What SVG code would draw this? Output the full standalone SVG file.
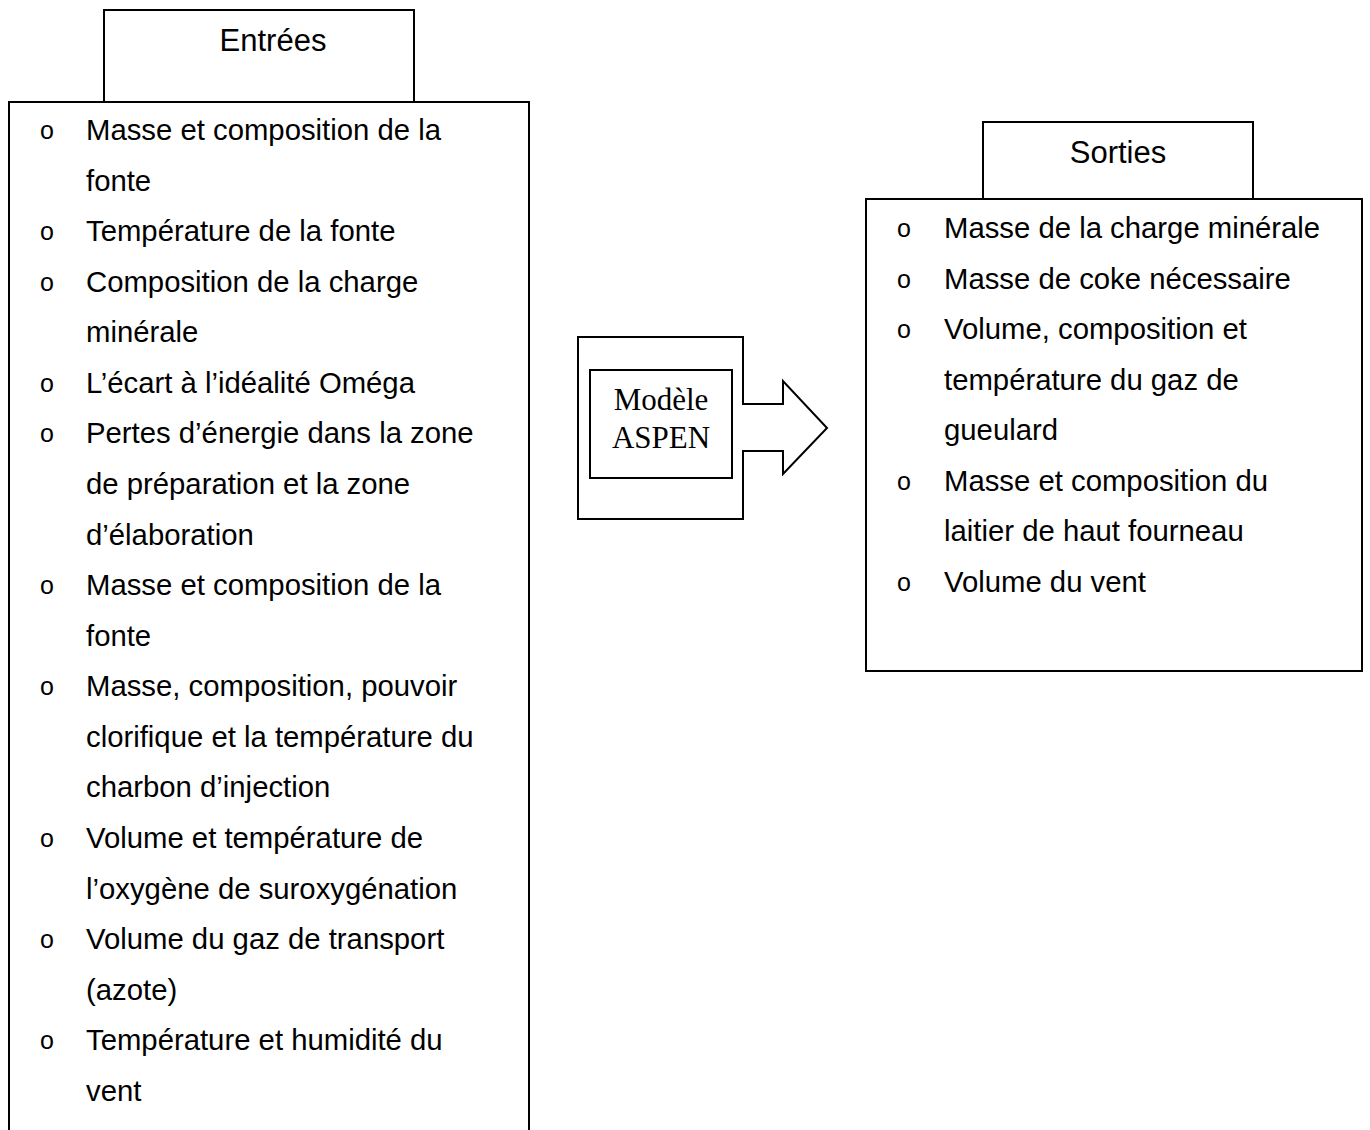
<svg xmlns="http://www.w3.org/2000/svg" width="1370" height="1130" viewBox="0 0 1370 1130">
<style>
.box{fill:none;stroke:#000;stroke-width:2}
.t{font-family:"Liberation Sans",Arial,sans-serif;font-size:29.3px;fill:#000}
.h{font-family:"Liberation Sans",Arial,sans-serif;font-size:31px;fill:#000;text-anchor:middle}
.b{font-family:"Liberation Sans",Arial,sans-serif;font-size:25px;fill:#000}
.s{font-family:"Liberation Serif","Times New Roman",serif;font-size:31px;fill:#000;text-anchor:middle}
</style>
<rect width="1370" height="1130" fill="#fff"/>
<g id="entrees">
<rect class="box" x="104" y="10" width="310" height="92"/>
<text class="h" x="273" y="51">Entrées</text>
<path class="box" d="M9,1135 V102 H529 V1135"/>
<g class="b">
<text x="40" y="139">o</text>
<text x="40" y="240">o</text>
<text x="40" y="291">o</text>
<text x="40" y="392">o</text>
<text x="40" y="442">o</text>
<text x="40" y="594">o</text>
<text x="40" y="695">o</text>
<text x="40" y="847">o</text>
<text x="40" y="948">o</text>
<text x="40" y="1049">o</text>
</g>
<g class="t">
<text x="86" y="140">Masse et composition de la</text>
<text x="86" y="191">fonte</text>
<text x="86" y="241">Température de la fonte</text>
<text x="86" y="292">Composition de la charge</text>
<text x="86" y="342">minérale</text>
<text x="86" y="393">L’écart à l’idéalité Oméga</text>
<text x="86" y="443">Pertes d’énergie dans la zone</text>
<text x="86" y="494">de préparation et la zone</text>
<text x="86" y="545">d’élaboration</text>
<text x="86" y="595">Masse et composition de la</text>
<text x="86" y="646">fonte</text>
<text x="86" y="696">Masse, composition, pouvoir</text>
<text x="86" y="747">clorifique et la température du</text>
<text x="86" y="797">charbon d’injection</text>
<text x="86" y="848">Volume et température de</text>
<text x="86" y="899">l’oxygène de suroxygénation</text>
<text x="86" y="949">Volume du gaz de transport</text>
<text x="86" y="1000">(azote)</text>
<text x="86" y="1050">Température et humidité du</text>
<text x="86" y="1101">vent</text>
</g>
</g>
<g id="modele">
<path class="box" d="M578,337 H743 V404 H783 V381 L827,428 L783,474 V451 H743 V519 H578 Z"/>
<rect class="box" x="590" y="370" width="142" height="108"/>
<text class="s" x="661" y="410">Modèle</text>
<text class="s" x="661" y="448">ASPEN</text>
</g>
<g id="sorties">
<rect class="box" x="983" y="122" width="270" height="77"/>
<text class="h" x="1118" y="163">Sorties</text>
<rect class="box" x="866" y="199" width="496" height="472"/>
<g class="b">
<text x="897" y="237">o</text>
<text x="897" y="288">o</text>
<text x="897" y="338">o</text>
<text x="897" y="490">o</text>
<text x="897" y="591">o</text>
</g>
<g class="t">
<text x="944" y="238">Masse de la charge minérale</text>
<text x="944" y="289">Masse de coke nécessaire</text>
<text x="944" y="339">Volume, composition et</text>
<text x="944" y="390">température du gaz de</text>
<text x="944" y="440">gueulard</text>
<text x="944" y="491">Masse et composition du</text>
<text x="944" y="541">laitier de haut fourneau</text>
<text x="944" y="592">Volume du vent</text>
</g>
</g>
<g id="connectors"></g>
</svg>
